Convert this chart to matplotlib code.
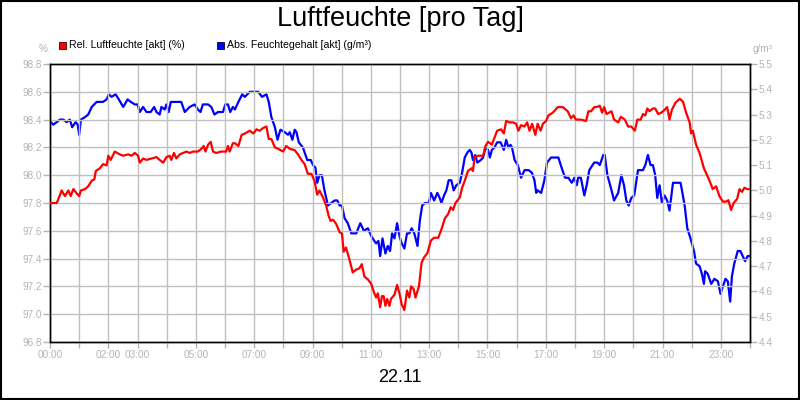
import matplotlib
matplotlib.use("Agg")
import matplotlib.pyplot as plt
from matplotlib.patches import Rectangle

plt.rcParams['font.family'] = ['Liberation Sans', 'DejaVu Sans']

# ---- data (hours of the day, values) ----
rel_hours = [0.03, 0.23, 0.29, 0.40, 0.51, 0.63, 0.71, 0.80, 0.91, 1.00, 1.06, 1.20, 1.31, 1.43, 1.52,
             1.57, 1.71, 1.82, 1.94, 2.00, 2.08, 2.22, 2.39, 2.51, 2.68, 2.79, 2.91, 3.02, 3.08, 3.19,
             3.31, 3.48, 3.65, 3.76, 3.88, 3.99, 4.10, 4.16, 4.25, 4.33, 4.45, 4.56, 4.68, 4.79, 4.90,
             5.07, 5.19, 5.27, 5.33, 5.42, 5.51, 5.59, 5.70, 5.87, 6.04, 6.10, 6.16, 6.27,
             6.34, 6.46, 6.57, 6.68, 6.85, 6.97, 7.08, 7.19, 7.31, 7.42, 7.50, 7.59, 7.71, 7.82, 7.99,
             8.10, 8.22, 8.39, 8.50, 8.62, 8.73, 8.84, 8.96, 9.07, 9.16, 9.24, 9.36, 9.47, 9.55, 9.62,
             9.70, 9.81, 9.93, 10.01, 10.07, 10.15, 10.27, 10.38, 10.49, 10.61, 10.69, 10.78, 10.90,
             11.01, 11.12, 11.18, 11.24, 11.32, 11.38, 11.44, 11.50, 11.56, 11.64, 11.69, 11.81, 11.90,
             11.98, 12.06, 12.15, 12.24, 12.32, 12.38, 12.47,
             12.53, 12.65, 12.74, 12.83, 12.94, 13.06, 13.17, 13.31, 13.42, 13.54, 13.65, 13.74, 13.82,
             13.90, 14.05, 14.13, 14.22, 14.33, 14.45, 14.50, 14.56, 14.68, 14.85, 14.93, 15.02, 15.15,
             15.24, 15.33, 15.47, 15.56, 15.64, 15.76, 15.87, 15.98, 16.06, 16.15, 16.27, 16.36, 16.44,
             16.53, 16.64, 16.72, 16.82, 16.90, 17.01, 17.09, 17.24, 17.41, 17.58, 17.75, 17.86, 17.95,
             18.03, 18.20, 18.38, 18.46, 18.55, 18.66,
             18.74, 18.85, 18.93, 19.00, 19.08, 19.25, 19.34, 19.48, 19.57, 19.71, 19.82, 19.93, 20.05,
             20.14, 20.25, 20.33, 20.41, 20.48, 20.56, 20.67, 20.75, 20.85, 20.96, 21.07, 21.16, 21.24,
             21.32, 21.44, 21.59, 21.70, 21.81, 21.93, 21.98, 22.04, 22.15, 22.27, 22.42, 22.55, 22.67,
             22.72, 22.84, 22.95, 23.07, 23.18, 23.26, 23.35, 23.44, 23.56, 23.64, 23.72, 23.81, 23.90,
             23.98]
rel_values = [97.80, 97.80, 97.83, 97.89, 97.85, 97.89, 97.85, 97.90, 97.87, 97.85, 97.89, 97.90, 97.92, 97.96, 97.97,
              98.03, 98.05, 98.08, 98.07, 98.14, 98.11, 98.17, 98.15, 98.14, 98.15, 98.14, 98.16, 98.14, 98.09, 98.12,
              98.11, 98.12, 98.13, 98.11, 98.09, 98.13, 98.14, 98.11, 98.16, 98.12, 98.15, 98.16, 98.17, 98.16, 98.17,
              98.17, 98.19, 98.21, 98.17, 98.22, 98.24, 98.17, 98.16, 98.17, 98.17, 98.21, 98.17, 98.23,
              98.23, 98.21, 98.29, 98.30, 98.32, 98.30, 98.33, 98.32, 98.34, 98.35, 98.26, 98.26, 98.20, 98.19, 98.17,
              98.21, 98.19, 98.18, 98.15, 98.11, 98.08, 98.01, 98.01, 97.96, 97.86, 97.89, 97.84, 97.78, 97.71, 97.67,
              97.68, 97.65, 97.59, 97.58, 97.45, 97.48, 97.39, 97.30, 97.32, 97.33, 97.36, 97.27, 97.25,
              97.22, 97.15, 97.12, 97.15, 97.05, 97.13, 97.13, 97.06, 97.11, 97.06, 97.11, 97.14, 97.21,
              97.15, 97.07, 97.03, 97.17, 97.12, 97.20, 97.18,
              97.12, 97.20, 97.37, 97.41, 97.44, 97.53, 97.55, 97.55, 97.61, 97.69, 97.72, 97.77, 97.75,
              97.80, 97.84, 97.91, 97.96, 98.03, 98.05, 98.03, 98.13, 98.14, 98.14, 98.21, 98.24, 98.22,
              98.27, 98.32, 98.33, 98.30, 98.39, 98.38, 98.38, 98.37, 98.32, 98.36, 98.35, 98.38, 98.32,
              98.37, 98.29, 98.37, 98.32, 98.37, 98.39, 98.43, 98.45, 98.49, 98.49, 98.46, 98.41, 98.43,
              98.40, 98.40, 98.39, 98.46, 98.46, 98.49,
              98.49, 98.50, 98.45, 98.49, 98.44, 98.46, 98.40, 98.38, 98.42, 98.40, 98.35, 98.35, 98.32,
              98.40, 98.40, 98.44, 98.43, 98.48, 98.46, 98.48, 98.48, 98.44, 98.45, 98.47, 98.49, 98.40,
              98.47, 98.52, 98.55, 98.53, 98.45, 98.38, 98.30, 98.32, 98.22, 98.16, 98.05, 97.99, 97.93,
              97.90, 97.92, 97.85, 97.81, 97.81, 97.82, 97.75, 97.80, 97.83, 97.90, 97.88, 97.91, 97.90,
              97.90]

abs_hours = [0.03, 0.11, 0.23, 0.34, 0.46, 0.57, 0.68, 0.76, 0.88, 0.95, 1.00, 1.06, 1.20, 1.31, 1.43,
             1.60, 1.71, 1.82, 1.94, 2.02, 2.11, 2.25, 2.36, 2.51, 2.66, 2.77, 2.91, 3.00, 3.08, 3.19,
             3.31, 3.45, 3.57, 3.65, 3.76, 3.82, 3.93, 3.99, 4.07, 4.14, 4.33, 4.50, 4.62, 4.79, 4.96,
             5.07, 5.16, 5.24, 5.42, 5.53, 5.64, 5.76, 5.93, 6.01, 6.10, 6.18, 6.27,
             6.34, 6.46, 6.59, 6.68, 6.85, 7.14, 7.27, 7.42, 7.50, 7.59, 7.71, 7.80, 7.90, 8.05, 8.16,
             8.22, 8.31, 8.39, 8.45, 8.53, 8.67, 8.82, 8.94, 9.02, 9.10, 9.16, 9.24, 9.32, 9.41, 9.53,
             9.64, 9.76, 9.85, 9.93, 10.01, 10.10, 10.21, 10.33, 10.50, 10.64, 10.76, 10.90, 11.01,
             11.12, 11.18, 11.26, 11.32, 11.40, 11.50, 11.58, 11.66, 11.73, 11.81, 11.90, 11.98, 12.06,
             12.15, 12.24, 12.32, 12.40, 12.49,
             12.60, 12.68, 12.76, 12.85, 12.99, 13.06, 13.17, 13.28, 13.36, 13.42, 13.51, 13.59, 13.67,
             13.76, 13.84, 13.93, 14.05, 14.13, 14.22, 14.31, 14.39, 14.45, 14.50, 14.58, 14.65, 14.77,
             14.85, 14.93, 15.02, 15.08, 15.15, 15.24, 15.33, 15.45, 15.56, 15.64, 15.72, 15.79, 15.84,
             15.93, 16.04, 16.15, 16.27, 16.41, 16.52, 16.61, 16.67, 16.72, 16.84, 16.95, 17.04, 17.18,
             17.29, 17.43, 17.54, 17.66, 17.77, 17.89, 17.98, 18.06, 18.11, 18.20, 18.32, 18.40, 18.49,
             18.60,
             18.66, 18.77, 18.85, 18.97, 19.02, 19.11, 19.23, 19.34, 19.48, 19.59, 19.68, 19.76, 19.84,
             19.93, 20.03, 20.16, 20.33, 20.41, 20.50, 20.59, 20.67, 20.75, 20.82, 20.90, 20.98, 21.07,
             21.16, 21.24, 21.36, 21.47, 21.62, 21.76, 21.85, 21.96, 22.08, 22.15, 22.27, 22.35, 22.42,
             22.46, 22.55, 22.67, 22.78, 22.90, 22.99, 23.07, 23.16, 23.24, 23.32, 23.38, 23.46, 23.58,
             23.67, 23.75, 23.83, 23.92, 23.98]
abs_values = [5.27, 5.26, 5.27, 5.28, 5.28, 5.27, 5.28, 5.25, 5.27, 5.26, 5.22, 5.28, 5.29, 5.30, 5.33,
              5.35, 5.35, 5.35, 5.36, 5.38, 5.37, 5.38, 5.36, 5.33, 5.36, 5.35, 5.34, 5.34, 5.31, 5.33,
              5.31, 5.31, 5.33, 5.31, 5.30, 5.33, 5.32, 5.34, 5.31, 5.35, 5.35, 5.35, 5.31, 5.33, 5.34,
              5.32, 5.31, 5.34, 5.34, 5.33, 5.30, 5.31, 5.31, 5.34, 5.34, 5.31, 5.33,
              5.32, 5.35, 5.38, 5.37, 5.39, 5.39, 5.37, 5.38, 5.35, 5.29, 5.25, 5.20, 5.24, 5.23, 5.22,
              5.23, 5.20, 5.24, 5.23, 5.19, 5.17, 5.12, 5.12, 5.10, 5.09, 5.03, 5.06, 5.06, 5.00, 4.94,
              4.95, 4.96, 4.96, 4.94, 4.94, 4.89, 4.87, 4.83, 4.83, 4.87, 4.84, 4.85, 4.82,
              4.80, 4.79, 4.80, 4.74, 4.81, 4.75, 4.78, 4.76, 4.83, 4.81, 4.87, 4.82, 4.79,
              4.77, 4.83, 4.83, 4.85, 4.83,
              4.78, 4.88, 4.94, 4.95, 4.95, 4.99, 4.96, 4.99, 4.97, 4.95, 4.98, 5.00, 5.04,
              5.04, 5.00, 5.02, 5.03, 5.07, 5.13, 5.15, 5.16, 5.15, 5.12, 5.14, 5.11, 5.12,
              5.13, 5.17, 5.16, 5.13, 5.16, 5.17, 5.19, 5.19, 5.16, 5.20, 5.17, 5.18, 5.17,
              5.12, 5.10, 5.05, 5.08, 5.08, 5.07, 5.04, 4.99, 5.00, 4.99, 5.04, 5.11, 5.13,
              5.13, 5.13, 5.09, 5.05, 5.05, 5.03, 5.05, 5.02, 5.05, 5.05, 4.98, 5.02, 5.08,
              5.10,
              5.11, 5.11, 5.10, 5.14, 5.14, 5.06, 5.01, 4.96, 4.99, 5.06, 5.02, 4.96, 4.94,
              4.97, 4.98, 5.08, 5.08, 5.10, 5.14, 5.10, 5.10, 5.06, 4.97, 5.02, 4.95, 4.98,
              4.96, 4.92, 5.03, 5.03, 5.03, 4.94, 4.85, 4.81, 4.76, 4.71, 4.70, 4.67, 4.63,
              4.68, 4.67, 4.63, 4.65, 4.64, 4.59, 4.62, 4.65, 4.64, 4.56, 4.66, 4.71, 4.76,
              4.76, 4.74, 4.72, 4.74, 4.74]

x_tick_hours = list(range(0, 25))
x_label_hours = [0, 2, 3, 5, 7, 9, 11, 13, 15, 17, 19, 21, 23]
left_ticks = [96.8, 97.0, 97.2, 97.4, 97.6, 97.8, 98.0, 98.2, 98.4, 98.6, 98.8]
right_ticks = [4.4, 4.5, 4.6, 4.7, 4.8, 4.9, 5.0, 5.1, 5.2, 5.3, 5.4, 5.5]

title = "Luftfeuchte [pro Tag]"
date_label = "22.11"
rel_label = "Rel. Luftfeuchte [akt] (%)"
abs_label = "Abs. Feuchtegehalt [akt] (g/m³)"

# ---- styling ----
GRAY = "#b4b4b4"
GRID = "#c0c0c0"
RED = "#ff0000"
BLUE = "#0000ff"

fig = plt.figure(figsize=(8, 4), dpi=100)
fig.patch.set_facecolor("white")
ax = fig.add_axes([50 / 800, 58 / 400, 700 / 800, 278 / 400])
ax2 = ax.twinx()

ax.set_xlim(0, 24)
ax.set_ylim(96.8, 98.8)
ax2.set_ylim(4.4, 5.5)

ax.set_xticks(x_tick_hours)
ax.set_xticklabels([("%02d:00" % h) if h in x_label_hours else "" for h in x_tick_hours])
ax.set_yticks(left_ticks)
ax.set_yticklabels(["%.1f" % v for v in left_ticks])
ax2.set_yticks(right_ticks)
ax2.set_yticklabels(["%.1f" % v for v in right_ticks])

ax.grid(True, color=GRID, linewidth=1.0)
ax.set_axisbelow(True)

ax.tick_params(axis="x", colors=GRAY, length=4, width=1, pad=2, labelsize=7.2)
ax.tick_params(axis="y", colors=GRAY, length=5, width=1, pad=1, labelsize=7.2)
ax2.tick_params(axis="y", colors=GRAY, length=5, width=1, pad=1, labelsize=7.2)
for a in (ax, ax2):
    for s in a.spines.values():
        s.set_color("black")
        s.set_linewidth(1.0)

ax2.plot(abs_hours, abs_values, color=BLUE, linewidth=1.6)
ax.plot(rel_hours, rel_values, color=RED, linewidth=1.6, zorder=3)
ax.set_zorder(ax2.get_zorder() + 1)
ax.patch.set_visible(False)
ax2.patch.set_visible(True)
ax2.patch.set_facecolor("white")

# titles and annotations
fig.text(0.5, 1 - 19 / 400, title, ha="center", va="center", fontsize=19.5, color="black")
fig.text(0.5, 1 - 377 / 400, date_label, ha="center", va="center", fontsize=13, color="black")
fig.text(48 / 800, 1 - 49 / 400, "%", ha="right", va="center", fontsize=7.2, color=GRAY)
fig.text(753 / 800, 1 - 49 / 400, "g/m³", ha="left", va="center", fontsize=7.2, color=GRAY)

# legend
for x0, col, lab in [(59, RED, rel_label), (217, BLUE, abs_label)]:
    fig.patches.append(Rectangle((x0 / 800, 1 - 48.5 / 400), 7 / 800, 7 / 400,
                                 transform=fig.transFigure, facecolor=col,
                                 edgecolor="#400000" if col == RED else "#000040",
                                 linewidth=0.6))
    fig.text((x0 + 10) / 800, 1 - 45 / 400, lab, ha="left", va="center",
             fontsize=7.6, color="black")

# figure border
fig.patches.append(Rectangle((0.001, 0.002), 0.998, 0.996, transform=fig.transFigure,
                             fill=False, edgecolor="black", linewidth=1.5))

fig.savefig("out.png", dpi=100, facecolor="white")
